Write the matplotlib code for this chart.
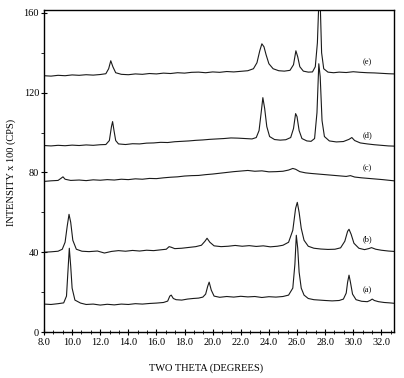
import matplotlib
matplotlib.use("Agg")
import matplotlib.pyplot as plt
from matplotlib.ticker import MultipleLocator

plt.rcParams['font.family'] = ['Liberation Serif', 'DejaVu Serif']

# traces: (two theta, intensity/100)
trace_a = [(8.0, 14.0), (8.5, 13.8), (9.0, 14.2), (9.4, 14.6), (9.6, 18), (9.7, 30), (9.8, 42),
           (9.9, 33), (10.0, 22), (10.2, 16), (10.6, 14.5), (11.0, 13.8), (11.5, 14.0), (12.0, 13.5),
           (12.5, 13.9), (13.0, 13.6), (13.5, 14.0), (14.0, 13.8), (14.5, 14.2), (15.0, 14.0),
           (15.5, 14.3), (16.0, 14.5), (16.5, 14.8), (16.8, 15.5), (16.95, 18.0), (17.05, 18.5),
           (17.2, 16.8), (17.4, 16.2), (17.8, 16.0), (18.2, 16.5), (18.6, 16.8), (19.0, 17.0),
           (19.3, 17.5), (19.5, 19), (19.65, 23), (19.75, 25), (19.9, 21), (20.1, 18), (20.5, 17.4),
           (21.0, 17.8), (21.5, 17.5), (22.0, 17.9), (22.5, 17.6), (23.0, 17.8), (23.5, 17.3),
           (24.0, 17.7), (24.5, 17.5), (25.0, 17.8), (25.4, 18.5), (25.7, 22), (25.85, 34),
           (25.95, 48.5), (26.05, 42), (26.15, 30), (26.3, 22), (26.5, 18.5), (26.8, 16.8),
           (27.2, 16.2), (27.6, 16.0), (28.0, 15.8), (28.5, 15.6), (29.0, 15.8), (29.3, 16.5),
           (29.5, 19.5), (29.6, 25), (29.7, 28.5), (29.8, 25), (29.95, 19), (30.2, 16.2),
           (30.6, 15.4), (31.0, 15.2), (31.2, 15.8), (31.35, 16.5), (31.5, 15.8), (31.8, 15.2),
           (32.2, 14.8), (32.6, 14.6), (32.9, 14.4)]

trace_b = [(8.0, 40.0), (8.5, 40.2), (9.0, 40.5), (9.3, 41.5), (9.5, 45), (9.65, 53), (9.78, 59),
           (9.9, 55), (10.05, 46), (10.3, 41.5), (10.7, 40.5), (11.2, 40.3), (11.8, 40.6),
           (12.3, 39.6), (12.8, 40.4), (13.3, 40.8), (13.8, 40.5), (14.3, 40.9), (14.8, 40.6),
           (15.3, 41.0), (15.8, 40.8), (16.3, 41.2), (16.7, 41.5), (16.9, 42.8), (17.05, 42.5),
           (17.3, 41.8), (17.8, 42.0), (18.3, 42.4), (18.8, 42.8), (19.2, 43.5), (19.45, 45.5),
           (19.6, 47), (19.8, 45), (20.1, 43.2), (20.6, 42.8), (21.1, 43.0), (21.6, 43.4),
           (22.1, 43.0), (22.6, 43.3), (23.1, 42.9), (23.6, 43.2), (24.1, 42.7), (24.6, 43.0),
           (25.0, 43.5), (25.4, 45), (25.7, 51), (25.9, 62), (26.02, 65), (26.15, 60), (26.3, 52),
           (26.5, 46), (26.8, 43), (27.2, 42), (27.7, 41.6), (28.2, 41.4), (28.7, 41.5),
           (29.1, 42.2), (29.4, 45.5), (29.6, 50.5), (29.7, 51.5), (29.85, 49), (30.05, 44.5),
           (30.4, 42.0), (30.8, 41.3), (31.1, 41.8), (31.3, 42.3), (31.6, 41.5), (32.0, 41.0),
           (32.5, 40.6), (32.9, 40.4)]

trace_c = [(8.0, 75.5), (8.5, 75.8), (9.0, 76.0), (9.2, 77.0), (9.35, 77.8), (9.5, 76.6),
           (9.9, 76.0), (10.5, 76.2), (11.0, 75.9), (11.5, 76.3), (12.0, 76.1), (12.5, 76.4),
           (13.0, 76.2), (13.5, 76.6), (14.0, 76.4), (14.5, 76.8), (15.0, 76.6), (15.5, 77.0),
           (16.0, 76.9), (16.5, 77.3), (17.0, 77.6), (17.5, 77.8), (18.0, 78.2), (18.5, 78.4),
           (19.0, 78.5), (19.5, 78.9), (20.0, 79.2), (20.5, 79.6), (21.0, 80.0), (21.5, 80.4),
           (22.0, 80.7), (22.5, 81.0), (23.0, 80.6), (23.5, 80.8), (24.0, 80.3), (24.5, 80.4),
           (25.0, 80.6), (25.4, 81.2), (25.7, 82.0), (25.9, 81.6), (26.2, 80.4), (26.6, 79.8),
           (27.0, 79.5), (27.5, 79.2), (28.0, 78.9), (28.5, 78.6), (29.0, 78.3), (29.5, 78.0),
           (29.8, 78.4), (30.1, 77.7), (30.6, 77.3), (31.1, 77.0), (31.6, 76.7), (32.1, 76.4),
           (32.5, 76.1), (32.9, 75.8)]

trace_d = [(8.0, 93.5), (8.5, 93.3), (9.0, 93.6), (9.5, 93.4), (10.0, 93.7), (10.5, 93.5),
           (11.0, 93.8), (11.5, 93.6), (12.0, 93.9), (12.4, 94.0), (12.65, 96), (12.8, 103),
           (12.88, 105.5), (12.98, 101), (13.1, 96), (13.3, 94.3), (13.8, 94.0), (14.3, 94.4),
           (14.8, 94.3), (15.3, 94.7), (15.8, 94.8), (16.3, 95.1), (16.8, 95.0), (17.3, 95.4),
           (17.8, 95.6), (18.3, 95.8), (18.8, 96.1), (19.3, 96.3), (19.8, 96.6), (20.3, 96.8),
           (20.8, 97.0), (21.3, 97.3), (21.8, 97.2), (22.3, 97.0), (22.8, 96.8), (23.1, 97.5),
           (23.3, 101), (23.45, 110), (23.57, 117.5), (23.7, 112), (23.85, 103), (24.05, 98),
           (24.4, 96.5), (24.8, 96.2), (25.2, 96.4), (25.55, 97.5), (25.75, 102), (25.9, 109.5),
           (26.0, 108), (26.15, 101), (26.35, 97), (26.7, 95.8), (27.0, 95.6), (27.25, 97),
           (27.42, 110), (27.55, 134.5), (27.65, 128), (27.78, 106), (27.95, 98), (28.3, 95.8),
           (28.8, 95.3), (29.3, 95.5), (29.7, 96.6), (29.9, 97.5), (30.1, 96.0), (30.5, 94.8),
           (31.0, 94.3), (31.5, 93.9), (32.0, 93.6), (32.5, 93.3), (32.9, 93.2)]

trace_e = [(8.0, 128.5), (8.5, 128.3), (9.0, 128.7), (9.5, 128.5), (10.0, 128.9), (10.5, 128.7),
           (11.0, 129.0), (11.5, 128.8), (12.0, 129.1), (12.4, 129.5), (12.6, 132), (12.75, 136),
           (12.9, 133), (13.1, 130), (13.5, 129.2), (14.0, 129.0), (14.5, 129.4), (15.0, 129.2),
           (15.5, 129.6), (16.0, 129.4), (16.5, 129.8), (17.0, 129.6), (17.5, 130.0), (18.0, 129.8),
           (18.5, 130.2), (19.0, 130.3), (19.5, 130.0), (20.0, 130.4), (20.5, 130.2), (21.0, 130.6),
           (21.5, 130.4), (22.0, 130.7), (22.5, 131.0), (22.9, 132.0), (23.15, 135), (23.35, 141),
           (23.5, 144.5), (23.65, 143), (23.8, 139), (24.0, 134.5), (24.3, 132.0), (24.7, 131.0),
           (25.1, 130.8), (25.5, 131.2), (25.75, 134), (25.92, 141), (26.05, 138), (26.2, 133),
           (26.45, 130.8), (26.8, 130.3), (27.1, 130.4), (27.3, 133), (27.45, 145), (27.55, 165),
           (27.65, 165), (27.75, 140), (27.9, 132), (28.2, 130.3), (28.6, 130.0), (29.0, 130.3),
           (29.5, 130.1), (30.0, 130.5), (30.5, 130.2), (31.0, 130.0), (31.5, 129.9), (32.0, 129.7),
           (32.5, 129.5), (32.9, 129.4)]

labels = ['(a)', '(b)', '(c)', '(d)', '(e)']
label_y = [21, 46.5, 82, 98.5, 135.5]
label_x = 31.0

fig = plt.figure(figsize=(4.04, 3.78), dpi=100)
ax = fig.add_axes([44/404, 1 - 332/378, 350/404, (332 - 9.5)/378])

for tr in [trace_a, trace_b, trace_c, trace_d, trace_e]:
    xs = [p[0] for p in tr]
    ys = [p[1] for p in tr]
    ax.plot(xs, ys, color='#1a1a1a', lw=0.8)

for lab, ly in zip(labels, label_y):
    ax.text(label_x, ly, lab, fontsize=6, ha='center', va='center')

ax.set_xlim(8.0, 32.9)
ax.set_ylim(0, 161.7)
ax.set_xticks([8, 10, 12, 14, 16, 18, 20, 22, 24, 26, 28, 30, 32])
ax.set_xticklabels(['8.0', '10.0', '12.0', '14.0', '16.0', '18.0', '20.0', '22.0',
                    '24.0', '26.0', '28.0', '30.0', '32.0'])
ax.xaxis.set_minor_locator(MultipleLocator(2 / 3))
ax.set_yticks([0, 40, 80, 120, 160])
ax.yaxis.set_minor_locator(MultipleLocator(20))
ax.tick_params(axis='x', which='major', direction='inout', length=5, width=0.8, labelsize=7.5, pad=2)
ax.tick_params(axis='x', which='minor', direction='inout', length=3, width=0.6)
ax.tick_params(axis='y', which='major', direction='inout', length=5, width=0.8, labelsize=7.5, pad=1)
ax.tick_params(axis='y', which='minor', direction='out', length=2, width=0.6)
for s in ax.spines.values():
    s.set_linewidth(1.0)

fig.text(206/404, 1 - 368/378, 'TWO THETA (DEGREES)', fontsize=7.5, ha='center', va='center')
fig.text(11/404, 1 - 172/378, 'INTENSITY x 100 (CPS)', fontsize=7.5, ha='center', va='center',
         rotation=90)

fig.savefig('out.png', dpi=100)
